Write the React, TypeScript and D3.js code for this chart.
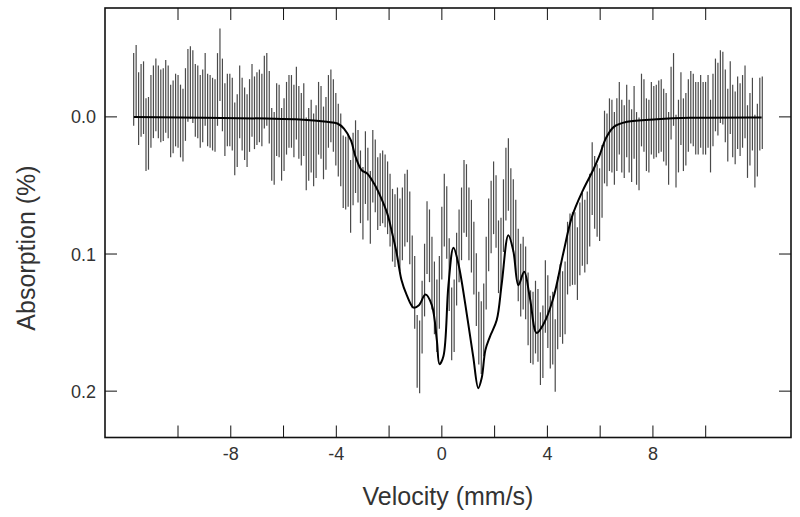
import React from "react";
import * as d3 from "d3";

// Channel calibration (velocity of first channel and channel step, mm/s)
const V_START = -11.68;
const V_STEP = 0.09343;

const absorption: number[] = [
  -0.020, -0.026, -0.006, -0.012, -0.014, 0.013, 0.012, -0.004, -0.011, -0.016,
  -0.011, -0.008, -0.009, -0.015, -0.011, 0.003, 0.000, -0.005, -0.004, 0.003,
  0.006, -0.009, -0.023, -0.025, -0.022, -0.012, -0.011, -0.004, -0.008, -0.020,
  -0.005, -0.004, -0.002, -0.001, -0.020, -0.038, -0.016, 0.002, -0.005, -0.005,
  -0.002, 0.016, 0.010, -0.011, -0.002, 0.005, 0.010, -0.001, -0.012, -0.003,
  -0.006, -0.008, -0.005, -0.018, -0.020, -0.007, 0.020, 0.023, 0.002, 0.003,
  0.020, 0.013, 0.001, -0.004, -0.004, 0.003, -0.010, 0.004, 0.009, 0.002,
  0.027, 0.020, 0.014, 0.024, 0.018, 0.001, 0.004, 0.019, 0.012, -0.004,
  -0.008, -0.001, 0.009, 0.017, 0.024, 0.040, 0.041, 0.039, 0.058, 0.038,
  0.029, 0.036, 0.051, 0.063, 0.037, 0.049, 0.066, 0.036, 0.043, 0.056,
  0.053, 0.051, 0.054, 0.059, 0.068, 0.079, 0.083, 0.078, 0.086, 0.078,
  0.068, 0.065, 0.081, 0.113, 0.128, 0.171, 0.175, 0.146, 0.119, 0.088,
  0.094, 0.114, 0.132, 0.145, 0.128, 0.092, 0.068, 0.077, 0.115, 0.151,
  0.145, 0.111, 0.094, 0.078, 0.058, 0.061, 0.078, 0.087, 0.103, 0.126,
  0.154, 0.161, 0.148, 0.114, 0.086, 0.073, 0.059, 0.069, 0.102, 0.100,
  0.072, 0.049, 0.042, 0.064, 0.072, 0.087, 0.108, 0.119, 0.114, 0.121,
  0.140, 0.153, 0.154, 0.146, 0.152, 0.169, 0.164, 0.131, 0.142, 0.157,
  0.154, 0.174, 0.143, 0.134, 0.139, 0.132, 0.103, 0.097, 0.096, 0.096,
  0.107, 0.089, 0.082, 0.087, 0.081, 0.068, 0.045, 0.055, 0.061, 0.064,
  0.047, 0.022, 0.024, 0.013, 0.014, 0.023, 0.013, 0.001, 0.014, 0.018,
  0.003, 0.014, 0.021, 0.004, 0.023, 0.027, -0.005, -0.001, 0.013, 0.014,
  0.001, 0.004, 0.003, 0.000, -0.001, 0.006, 0.009, 0.023, -0.010, -0.020,
  0.025, 0.014, -0.006, 0.013, 0.009, -0.001, -0.007, -0.005, 0.001, 0.001,
  -0.004, 0.001, 0.001, -0.004, 0.014, -0.005, -0.016, -0.013, -0.022, -0.021,
  -0.008, 0.006, -0.014, 0.003, 0.008, -0.003, 0.002, -0.004, -0.011, 0.018,
  0.009, -0.002, 0.025, 0.017, -0.002, -0.003,
];

// Statistical error (half bar length, %)
const ERROR = 0.0265;

// Fitted curve, points: velocity, absorption
const fitVelocity: number[] = [
  -11.67, -6.64, -5.38, -4.36, -3.96, -3.71, -3.45, -3.27, -3.04, -2.83,
  -2.57, -2.32, -2.07, -1.88, -1.71, -1.53, -1.33, -1.07, -0.87, -0.62,
  -0.38, -0.19, -0.09, 0.06, 0.25, 0.44, 0.63, 0.98, 1.19, 1.38,
  1.51, 1.65, 1.82, 2.08, 2.27, 2.52, 2.71, 2.90, 3.12, 3.34,
  3.59, 3.85, 4.22, 4.60, 4.93, 5.35, 5.73, 5.98, 6.22, 6.52,
  7.02, 8.15, 9.40, 12.12,
];
const fitAbsorption: number[] = [
  0.000, 0.0012, 0.0019, 0.0036, 0.0048, 0.0085, 0.0170, 0.0292, 0.0389, 0.0413,
  0.0486, 0.0583, 0.0704, 0.0850, 0.0996, 0.119, 0.130, 0.1391, 0.1373, 0.1296,
  0.1373, 0.1628, 0.1803, 0.1745, 0.1227, 0.0954, 0.1074, 0.1482, 0.1750, 0.1978,
  0.1905, 0.1701, 0.1604, 0.1482, 0.1215, 0.0863, 0.0979, 0.1227, 0.1130, 0.1324,
  0.1575, 0.1512, 0.1324, 0.0996, 0.0729, 0.0534, 0.0389, 0.0279, 0.0155, 0.0073,
  0.0036, 0.0017, 0.0007, 0.0004,
];

const xMinorTicks: number[] = [-10, -8, -6, -4, -2, 0, 2, 4, 6, 8, 10];
const xLabelTicks: number[] = [-8, -4, 0, 4, 8];
const yTicks: number[] = [0.0, 0.1, 0.2];

const W = 800;
const H = 517;
const M = { left: 105, right: 9, top: 8, bottom: 79.5 };

export default function App() {
  const x = d3.scaleLinear().domain([-12.767, 13.233]).range([M.left, W - M.right]);
  const y = d3.scaleLinear().domain([-0.0794, 0.2338]).range([M.top, H - M.bottom]);

  const points = absorption.map((a, i) => ({ v: V_START + i * V_STEP, a }));
  const fit = fitVelocity.map((v, i) => [v, fitAbsorption[i]] as [number, number]);
  const line = d3
    .line<[number, number]>()
    .x((d) => x(d[0]))
    .y((d) => y(d[1]))
    .curve(d3.curveCatmullRom.alpha(0.5));

  const x0 = M.left;
  const x1 = W - M.right;
  const y0 = M.top;
  const y1 = H - M.bottom;
  const tl = 12;
  const font = "'Liberation Sans', Arial, Helvetica, sans-serif";

  return (
    <div style={{ position: "fixed", left: 0, top: 0 }}>
      <svg width={W} height={H} style={{ display: "block", background: "#fff" }}>
        <g stroke="#4a4a4a" strokeWidth={1.2}>
          {points.map((p, i) => (
            <line key={i} x1={x(p.v)} x2={x(p.v)} y1={y(p.a - ERROR)} y2={y(p.a + ERROR)} />
          ))}
        </g>
        <path d={line(fit) || ""} fill="none" stroke="#000" strokeWidth={2} />
        <rect x={x0} y={y0} width={x1 - x0} height={y1 - y0} fill="none" stroke="#111" strokeWidth={1.6} />
        <g stroke="#111" strokeWidth={1}>
          {xMinorTicks.map((t) => (
            <g key={t}>
              <line x1={x(t)} x2={x(t)} y1={y1} y2={y1 - tl} />
              <line x1={x(t)} x2={x(t)} y1={y0} y2={y0 + tl} />
            </g>
          ))}
          {yTicks.map((t) => (
            <g key={t}>
              <line x1={x0} x2={x0 + tl} y1={y(t)} y2={y(t)} />
              <line x1={x1} x2={x1 - tl} y1={y(t)} y2={y(t)} />
            </g>
          ))}
        </g>
        <g fontFamily={font} fontSize={18} fill="#333">
          {xLabelTicks.map((t) => (
            <text key={t} x={x(t)} y={y1 + 22} textAnchor="middle">
              {String(t)}
            </text>
          ))}
          {yTicks.map((t) => (
            <text key={t} x={x0 - 9} y={y(t) + 6.5} textAnchor="end">
              {t.toFixed(1)}
            </text>
          ))}
        </g>
        <text x={448} y={505} textAnchor="middle" fontFamily={font} fontSize={25} fill="#333">
          Velocity (mm/s)
        </text>
        <text
          transform={`translate(35, 248) rotate(-90)`}
          textAnchor="middle"
          fontFamily={font}
          fontSize={25}
          fill="#333"
        >
          Absorption (%)
        </text>
      </svg>
    </div>
  );
}
